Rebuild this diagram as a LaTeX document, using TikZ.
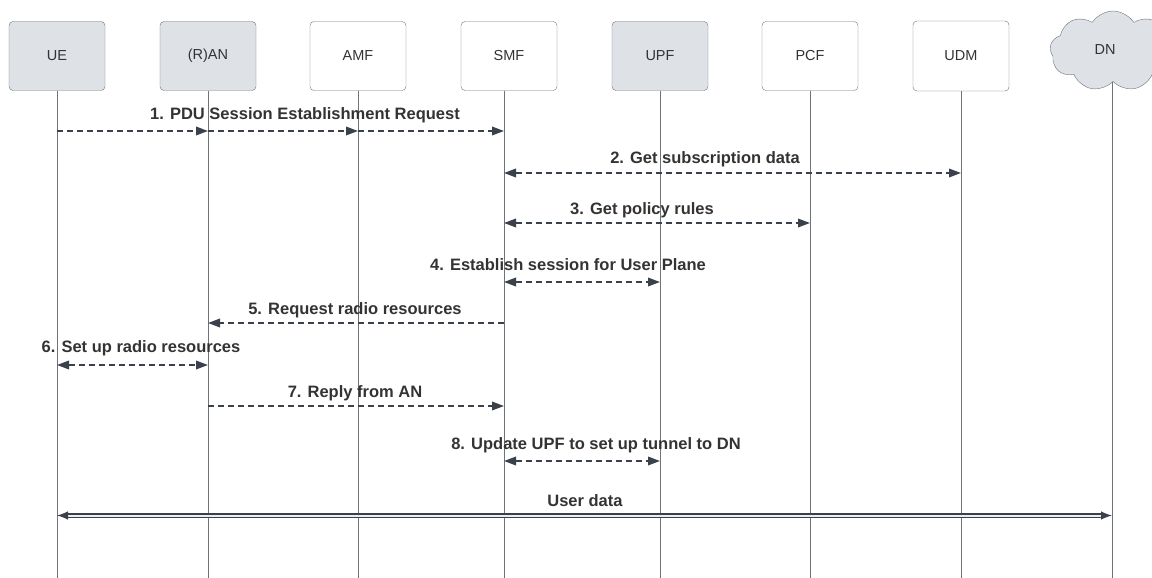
\documentclass[tikz,border=0pt]{standalone}
\usepackage{fontspec}
\setmainfont{Liberation Sans}
\usetikzlibrary{arrows.meta,shapes.symbols}
\definecolor{boxgray}{HTML}{DEE1E6}
\definecolor{edgegray}{HTML}{6F7379}
\definecolor{ink}{HTML}{3A414A}
\definecolor{txt}{HTML}{333333}
\tikzset{nf/.style={draw=edgegray,fill=white,rounded corners=4pt,minimum
width=96pt,minimum height=69pt,inner sep=0pt,text=txt,font=\fontsize{14.5}{17}\selectfont},
an/.style={nf,fill=boxgray}}
\tikzstyle{msg}     = [ink,line width=1.8pt,dash pattern=on 6pt off 4pt,-{Triangle[length=12pt,width=8.5pt]}]
\tikzstyle{bimsg}   = [msg,{Triangle[length=12pt,width=8.5pt]}-{Triangle[length=12pt,width=8.5pt]}]
\tikzstyle{life}    = [edgegray,line width=1pt]
\tikzstyle{lbl}     = [text=txt,anchor=base,inner sep=0pt,font=\bfseries\fontsize{16.5}{19}\selectfont]

\begin{document}
\begin{tikzpicture}[x=1pt,y=-1pt]
		\useasboundingbox (0,0) rectangle (1152,578);
		\clip (0,0) rectangle (1152,578);
		% network functions
		\node[an] (ue)  at (57,56)  {UE};
		\node[an] (ran) at (208,56) {(R)AN};
		\node[nf] (amf) at (358,56) {AMF};
		\node[nf] (smf) at (509,56) {SMF};
		\node[an] (upf) at (660,56) {UPF};
		\node[nf] (pcf) at (810,56) {PCF};
		\node[nf,minimum height=70pt] (udm) at (961,56) {UDM};
		\node[cloud,draw=edgegray,fill=boxgray,cloud puffs=9,cloud puff arc=115,aspect=1.5,minimum width=126pt,minimum height=80pt] (dn) at (1113,51) {};
		\node[text=txt,font=\fontsize{14.5}{17}\selectfont] (dntxt) at (1105,50) {DN};
		% lifelines
		\coordinate (bot)  at (0,578);
		\coordinate (smfl) at (504,0);
		\coordinate (dnl)  at (1112,0);
		\draw[life] (ue.south)  -- (ue |- bot);
		\draw[life] (ran.south) -- (ran |- bot);
		\draw[life] (amf.south) -- (amf |- bot);
		\draw[life] (smf.south -| smfl) -- (smfl |- bot);
		\draw[life] (upf.south) -- (upf |- bot);
		\draw[life] (pcf.south) -- (pcf |- bot);
		\draw[life] (udm.south) -- (udm |- bot);
		\draw[life] (dn.south -| dnl) -- (dnl |- bot);
		% message rows
		\coordinate (m1) at (0,131);
		\coordinate (m2) at (0,173);
		\coordinate (m3) at (0,223);
		\coordinate (m4) at (0,282);
		\coordinate (m5) at (0,323);
		\coordinate (m6) at (0,365);
		\coordinate (m7) at (0,406);
		\coordinate (m8) at (0,461);
		\coordinate (m9) at (0,515.5);
		% 1
		\draw[msg] (ue |- m1) -- (ran |- m1);
		\draw[msg] (ran |- m1) -- (amf |- m1);
		\draw[msg] (amf |- m1) -- (smfl |- m1);
		\node[lbl] (l1) at (305,119) {1. PDU Session Establishment Request};
		% 2
		\draw[bimsg] (smfl |- m2) -- (udm |- m2);
		\node[lbl] (l2) at (705,163) {2. Get subscription data};
		% 3
		\draw[bimsg] (smfl |- m3) -- (pcf |- m3);
		\node[lbl] (l3) at (642,214) {3. Get policy rules};
		% 4
		\draw[bimsg] (smfl |- m4) -- (upf |- m4);
		\node[lbl] (l4) at (568,270) {4. Establish session for User Plane};
		% 5
		\draw[msg] (smfl |- m5) -- (ran |- m5);
		\node[lbl] (l5) at (355,314) {5. Request radio resources};
		% 6
		\draw[bimsg] (ue |- m6) -- (ran |- m6);
		\node[lbl] (l6) at (141,352) {6. Set up radio resources};
		% 7
		\draw[msg] (ran |- m7) -- (smfl |- m7);
		\node[lbl] (l7) at (355,397) {7. Reply from AN};
		% 8
		\draw[bimsg] (smfl |- m8) -- (upf |- m8);
		\node[lbl] (l8) at (596,449) {8. Update UPF to set up tunnel to DN};
		% user data
		\draw[ink,line width=1.2pt,double=boxgray!60,double distance=2pt,{Latex[length=11pt,width=8.5pt]}-{Latex[length=11pt,width=8.5pt]}]
			(ue |- m9) -- (dnl |- m9);
		\node[lbl] (l9) at (585,506) {User data};
	\end{tikzpicture}
\end{document}
